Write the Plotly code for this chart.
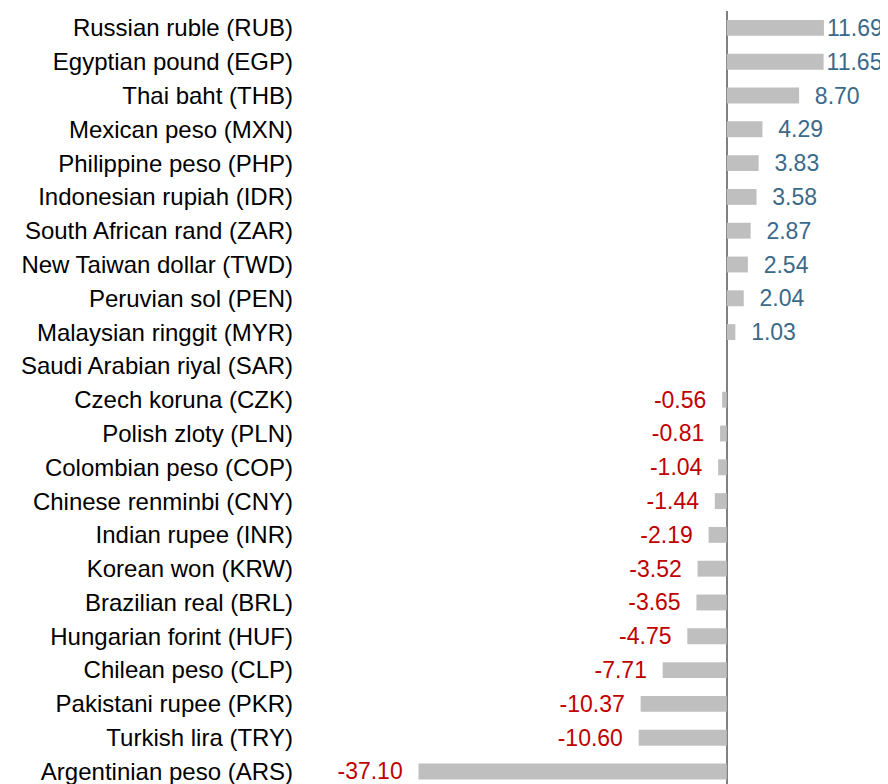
import plotly.graph_objects as go

currencies = [
    "Russian ruble (RUB)", "Egyptian pound (EGP)", "Thai baht (THB)", "Mexican peso (MXN)",
    "Philippine peso (PHP)", "Indonesian rupiah (IDR)", "South African rand (ZAR)",
    "New Taiwan dollar (TWD)", "Peruvian sol (PEN)", "Malaysian ringgit (MYR)",
    "Saudi Arabian riyal (SAR)", "Czech koruna (CZK)", "Polish zloty (PLN)",
    "Colombian peso (COP)", "Chinese renminbi (CNY)", "Indian rupee (INR)",
    "Korean won (KRW)", "Brazilian real (BRL)", "Hungarian forint (HUF)",
    "Chilean peso (CLP)", "Pakistani rupee (PKR)", "Turkish lira (TRY)",
    "Argentinian peso (ARS)",
]
changes = [11.69, 11.65, 8.70, 4.29, 3.83, 3.58, 2.87, 2.54, 2.04, 1.03, 0.0,
           -0.56, -0.81, -1.04, -1.44, -2.19, -3.52, -3.65, -4.75, -7.71,
           -10.37, -10.60, -37.10]

POS_COLOR = "#3A6A8A"
NEG_COLOR = "#C00000"

labels = []
colors = []
for v in changes:
    if v == 0:
        labels.append("")
    elif v >= 10:
        labels.append(f"{v:.2f}")
    elif v > 0:
        labels.append("\u00a0\u00a0" + f"{v:.2f}")
    else:
        labels.append(f"{v:.2f}" + "\u00a0\u00a0")
    colors.append(POS_COLOR if v >= 0 else NEG_COLOR)

fig = go.Figure(go.Bar(
    x=changes,
    y=currencies,
    orientation="h",
    marker=dict(color="#BFBFBF", line=dict(width=0)),
    text=labels,
    textposition="outside",
    constraintext="none",
    textfont=dict(family="Liberation Sans, Arial, sans-serif", size=23, color=colors),
    cliponaxis=False,
    width=0.47,
    hoverinfo="skip",
))

# the page body adds an 8px offset, so the figure is sized 8px smaller
fig.update_layout(
    width=880, height=776,
    margin=dict(l=290, r=0, t=3, b=0, autoexpand=False),
    paper_bgcolor="white", plot_bgcolor="white",
    showlegend=False,
    xaxis=dict(range=[-51.6, 19.4], showgrid=False, showticklabels=False,
               zeroline=True, zerolinecolor="#808080", zerolinewidth=2,
               showline=False, fixedrange=True, automargin=False),
    yaxis=dict(categoryorder="array", categoryarray=currencies, automargin=False,
               range=[22.37, -0.5], showgrid=False, zeroline=False, showline=False,
               ticks="", ticklabelstandoff=4,
               tickfont=dict(family="Liberation Sans, Arial, sans-serif",
                             size=24, color="#000000")),
)

fig.write_html("out.html")
